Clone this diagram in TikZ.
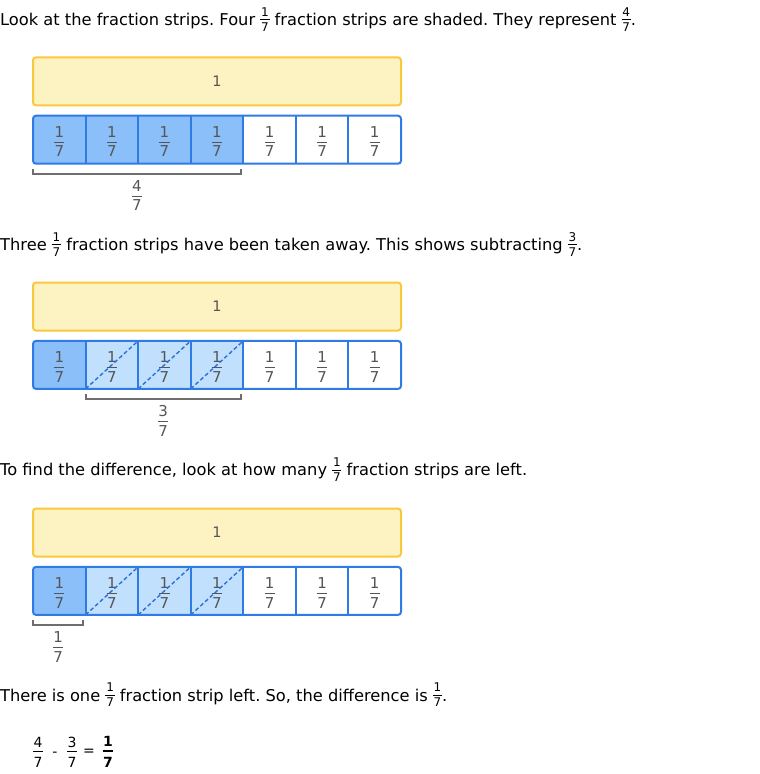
\documentclass[tikz,border=0pt]{standalone}
\usepackage{fontspec}
\setmainfont{DejaVu Sans}
\usetikzlibrary{positioning,calc}
\frenchspacing
\definecolor{stripblue}{RGB}{47,123,230}
\definecolor{dashblue}{RGB}{45,110,215}
\definecolor{shadeblue}{RGB}{139,191,249}
\definecolor{takenblue}{RGB}{192,224,253}
\definecolor{wholefill}{RGB}{253,242,194}
\definecolor{wholeline}{RGB}{248,201,60}
\definecolor{labelgray}{RGB}{85,85,85}
\definecolor{bracegray}{RGB}{110,110,110}

% small fraction inside running text
\newcommand{\fr}[2]{\raisebox{-5.7pt}{\fontsize{12}{14}\selectfont\setlength{\arrayrulewidth}{0.8pt}\setlength{\tabcolsep}{0.8pt}\begin{tabular}[b]{c}#1\\[-1.2pt]\hline\noalign{\vskip1.2pt}#2\end{tabular}}}
% fraction on the strips and under the brackets
\newcommand{\stripfrac}[2]{\setlength{\arrayrulewidth}{0.9pt}\setlength{\tabcolsep}{0.3pt}\begin{tabular}{c}#1\\[-1pt]\hline\noalign{\vskip2.5pt}#2\end{tabular}}
% fraction in the last line
\newcommand{\eqfrac}[3][0.9pt]{\setlength{\arrayrulewidth}{#1}\setlength{\tabcolsep}{0.5pt}\begin{tabular}[b]{c}#2\\[-1pt]\hline\noalign{\vskip3.2pt}#3\end{tabular}}

\begin{document}
\begin{tikzpicture}[x=1pt, y=-1pt,
  txt/.style={anchor=base west, inner sep=0pt, font=\fontsize{16.25}{19}\selectfont},
  whole/.style={draw=wholeline, fill=wholefill, line width=2pt, rounded corners=3pt, minimum width=368pt, minimum height=48pt, inner sep=0pt, font=\fontsize{14.5}{17}\selectfont, text=labelgray},
  cell/.style={minimum width=52.571pt, minimum height=48pt, inner sep=0pt, outer sep=0pt},
  fullcell/.style={cell, fill=shadeblue},
  takencell/.style={cell, fill=takenblue},
  emptycell/.style={cell, fill=white},
  fraclabel/.style={inner sep=0pt, yshift=-4pt, font=\fontsize{15}{17}\selectfont, text=labelgray},
  frame/.style={draw=stripblue, line width=2pt, rounded corners=3pt},
  divider/.style={draw=stripblue, line width=2pt},
  takenline/.style={draw=dashblue, line width=1.4pt, dash pattern=on 4pt off 2.5pt},
  bracket/.style={draw=bracegray, line width=2pt},
  eqtxt/.style={inner sep=0pt, font=\fontsize{14}{16.8}\selectfont}]
\useasboundingbox (0,0) rectangle (760,774);

% first step
\node[txt] (intro) at (0,25.3) {Look at the fraction strips. Four \fr{1}{7} fraction strips are shaded. They represent \fr{4}{7}.};
\node[whole] (wholeA) at (217,81.3) {1};
\foreach \i/\kind in {1/fullcell,2/fullcell,3/fullcell,4/fullcell,5/emptycell,6/emptycell,7/emptycell}
  \node[\kind] (a\i) at ({33+(\i-0.5)*52.571},139.7) {};
\foreach \i in {1,...,7}
  \node[fraclabel] (a\i t) at (a\i) {\stripfrac{1}{7}};
\foreach \i in {1,...,6}
  \draw[divider] (a\i.north east) -- (a\i.south east);
\draw[frame] (a1.north west) rectangle (a7.south east);
\draw[bracket] ($(a1.south west)+(0,5.5)$) -- ($(a1.south west)+(0,10.5)$) -- ($(a4.south east)+(-2.4,10.5)$) -- ($(a4.south east)+(-2.4,5.5)$);
\node[fraclabel, yshift=4pt] (sumA) at ($(a1.south west)!0.5!(a4.south east)+(-1.2,34)$) {\stripfrac{4}{7}};

% second step
\node[txt] (takeaway) at (0,250.5) {Three \fr{1}{7} fraction strips have been taken away. This shows subtracting \fr{3}{7}.};
\node[whole] (wholeB) at (217,306.5) {1};
\foreach \i/\kind in {1/fullcell,2/takencell,3/takencell,4/takencell,5/emptycell,6/emptycell,7/emptycell}
  \node[\kind] (b\i) at ({33+(\i-0.5)*52.571},364.9) {};
\foreach \i in {1,...,7}
  \node[fraclabel] (b\i t) at (b\i) {\stripfrac{1}{7}};
\foreach \i in {2,3,4}
  \draw[takenline] (b\i.south west) -- (b\i.north east);
\foreach \i in {1,...,6}
  \draw[divider] (b\i.north east) -- (b\i.south east);
\draw[frame] (b1.north west) rectangle (b7.south east);
\draw[bracket] ($(b2.south west)+(0,5.5)$) -- ($(b2.south west)+(0,10.5)$) -- ($(b4.south east)+(-2.4,10.5)$) -- ($(b4.south east)+(-2.4,5.5)$);
\node[fraclabel, yshift=4pt] (sumB) at ($(b2.south west)!0.5!(b4.south east)+(-1.2,34)$) {\stripfrac{3}{7}};

% third step
\node[txt] (howmany) at (0,475.7) {To find the difference, look at how many \fr{1}{7} fraction strips are left.};
\node[whole] (wholeC) at (217,532.5) {1};
\foreach \i/\kind in {1/fullcell,2/takencell,3/takencell,4/takencell,5/emptycell,6/emptycell,7/emptycell}
  \node[\kind] (c\i) at ({33+(\i-0.5)*52.571},590.9) {};
\foreach \i in {1,...,7}
  \node[fraclabel] (c\i t) at (c\i) {\stripfrac{1}{7}};
\foreach \i in {2,3,4}
  \draw[takenline] (c\i.south west) -- (c\i.north east);
\foreach \i in {1,...,6}
  \draw[divider] (c\i.north east) -- (c\i.south east);
\draw[frame] (c1.north west) rectangle (c7.south east);
\draw[bracket] ($(c1.south west)+(0,5.5)$) -- ($(c1.south west)+(0,10.5)$) -- ($(c1.south east)+(-2.4,10.5)$) -- ($(c1.south east)+(-2.4,5.5)$);
\node[fraclabel, yshift=4pt] (sumC) at ($(c1.south west)!0.5!(c1.south east)+(-1.2,34)$) {\stripfrac{1}{7}};

% answer
\node[txt] (answer) at (0,701) {There is one \fr{1}{7} fraction strip left. So, the difference is \fr{1}{7}.};
\node[eqtxt, anchor=base] (eqfirst) at (38,767) {\eqfrac{4}{7}};
\node[eqtxt] (eqminus) at (55,754) {-};
\node[eqtxt, anchor=base] (eqsecond) at (72,767) {\eqfrac{3}{7}};
\node[eqtxt] (eqequals) at (89,752) {=};
\node[eqtxt, anchor=base, font=\fontsize{14}{16.8}\selectfont\bfseries] (eqresult) at (108,767) {\eqfrac[1.8pt]{1}{7}};
\end{tikzpicture}
\end{document}
